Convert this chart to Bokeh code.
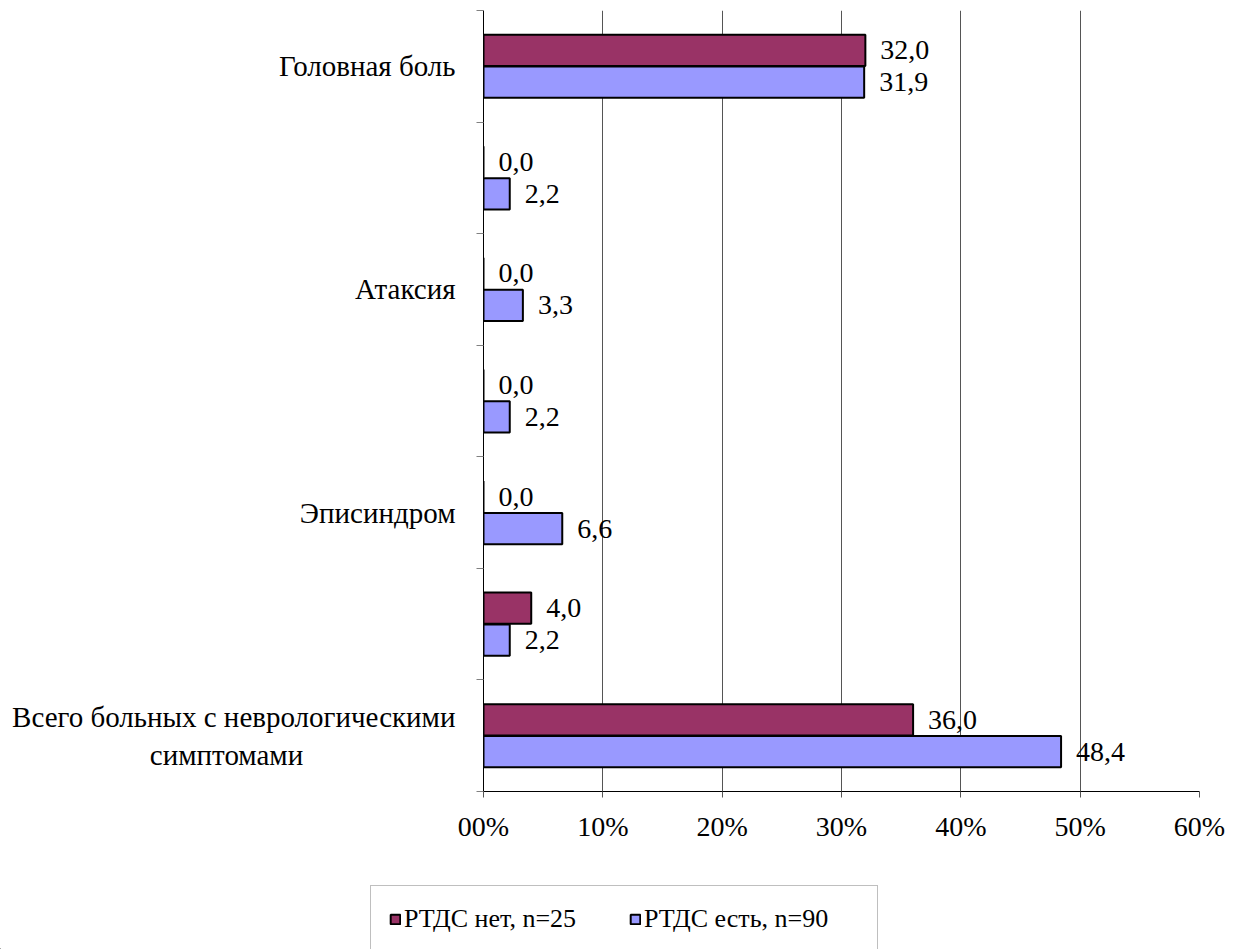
from bokeh.plotting import figure
from bokeh.models import (ColumnDataSource, Range1d, FixedTicker, Legend, LegendItem)
from bokeh.layouts import column
from bokeh.transform import dodge
from bokeh.embed import file_html
from bokeh.resources import INLINE

# Categories from top to bottom (unlabelled rows keep an empty name)
categories = ["Головная боль", "", "Атаксия", "", "Эписиндром", "",
              "Всего больных с неврологическими симптомами"]
rtds_no = [32.0, 0.0, 0.0, 0.0, 0.0, 4.0, 36.0]      # РТДС нет, n=25
rtds_yes = [31.9, 2.2, 3.3, 2.2, 6.6, 2.2, 48.4]     # РТДС есть, n=90
x_ticks = [0, 10, 20, 30, 40, 50, 60]
x_tick_labels = ["00%", "10%", "20%", "30%", "40%", "50%", "60%"]
series_names = ["РТДС нет, n=25", "РТДС есть, n=90"]
series_colors = ["#993366", "#9999FF"]

FONT = "Liberation Serif"
n = len(categories)
ypos = [n - 0.5 - i for i in range(n)]


def axis_label(name):
    # long names go on two lines; the short second line is padded so that
    # it sits centred under the first one
    if len(name) < 30:
        return name
    first, second = name.rsplit(" ", 1)
    return first + "\n" + second + "\u00a0" * 21


src = ColumnDataSource(dict(
    y=ypos,
    no=rtds_no,
    yes=rtds_yes,
    no_lbl=[f"{v:.1f}".replace(".", ",") for v in rtds_no],
    yes_lbl=[f"{v:.1f}".replace(".", ",") for v in rtds_yes],
))

W, H_MAIN, H_LEG = 1243, 880, 69

p = figure(width=W, height=H_MAIN, output_backend="svg", toolbar_location=None,
           x_range=Range1d(0, 60), y_range=Range1d(0, n),
           min_border_left=483, min_border_right=44,
           min_border_top=10, min_border_bottom=H_MAIN - 791)
p.outline_line_color = None
p.background_fill_color = "white"
p.border_fill_color = "white"

off = 0.143
bh = 0.28
p.hbar(y=dodge("y", off), right="no", left=0, height=bh, source=src,
       fill_color=series_colors[0], line_color="black", line_width=2)
p.hbar(y=dodge("y", -off), right="yes", left=0, height=bh, source=src,
       fill_color=series_colors[1], line_color="black", line_width=2)

p.text(x="no", y=dodge("y", off), text="no_lbl", source=src, x_offset=15,
       text_align="left", text_baseline="middle",
       text_font=FONT, text_font_size="28px", text_color="black")
p.text(x="yes", y=dodge("y", -off), text="yes_lbl", source=src, x_offset=15,
       text_align="left", text_baseline="middle",
       text_font=FONT, text_font_size="28px", text_color="black")

# x axis: percent scale
p.xaxis.ticker = FixedTicker(ticks=x_ticks)
p.xaxis.major_label_overrides = {t: l for t, l in zip(x_ticks, x_tick_labels)}
p.xaxis.major_label_text_font = FONT
p.xaxis.major_label_text_font_size = "28px"
p.xaxis.major_label_text_color = "black"
p.xaxis.major_label_standoff = 13
p.xaxis.major_tick_in = 0
p.xaxis.major_tick_out = 6
p.xaxis.major_tick_line_color = "#555555"
p.xaxis.minor_tick_line_color = None
p.xaxis.axis_line_color = "black"

# y axis: category names at row centres, ticks at row boundaries
label_ticks = [ypos[i] for i, c in enumerate(categories) if c]
p.yaxis.ticker = FixedTicker(ticks=label_ticks, minor_ticks=list(range(n + 1)))
p.yaxis.major_label_overrides = {ypos[i]: axis_label(c)
                                 for i, c in enumerate(categories) if c}
p.yaxis.major_label_text_font = FONT
p.yaxis.major_label_text_font_size = "29px"
p.yaxis.major_label_text_color = "black"
p.yaxis.major_label_standoff = 21
p.yaxis.major_tick_in = 0
p.yaxis.major_tick_out = 0
p.yaxis.minor_tick_in = 0
p.yaxis.minor_tick_out = 7
p.yaxis.minor_tick_line_color = "#808080"
p.yaxis.axis_line_color = "black"

p.ygrid.grid_line_color = None
p.xgrid.ticker = FixedTicker(ticks=[10, 20, 30, 40, 50])
p.xgrid.grid_line_color = "#555555"
p.xgrid.grid_line_width = 1

# legend strip under the chart; its frame spans the full width
lf = figure(width=W, height=H_LEG, output_backend="svg", toolbar_location=None,
            x_range=Range1d(0, 1), y_range=Range1d(0, 1),
            min_border=0, x_axis_type=None, y_axis_type=None)
lf.frame_align = False
lf.outline_line_color = None
lf.grid.visible = False
lf.border_fill_color = "white"
swatch = ColumnDataSource(dict(y=[-5], r=[-5]))
sw = [lf.hbar(y="y", right="r", left=-6, height=0.5, source=swatch,
              fill_color=c, line_color="black", line_width=2)
      for c in series_colors]

legend = Legend(items=[LegendItem(label=series_names[i], renderers=[sw[i]])
                       for i in range(2)],
                orientation="horizontal", location=(370, -4),
                glyph_width=12, glyph_height=12, label_standoff=3,
                label_width=215, spacing=10, padding=18, margin=0,
                border_line_color="#808080", border_line_width=1,
                background_fill_color="white", background_fill_alpha=1)
legend.label_text_font = FONT
legend.label_text_font_size = "26px"
legend.label_text_color = "black"
lf.add_layout(legend)

open("out.html", "w").write(file_html(column(p, lf, spacing=0), INLINE))
